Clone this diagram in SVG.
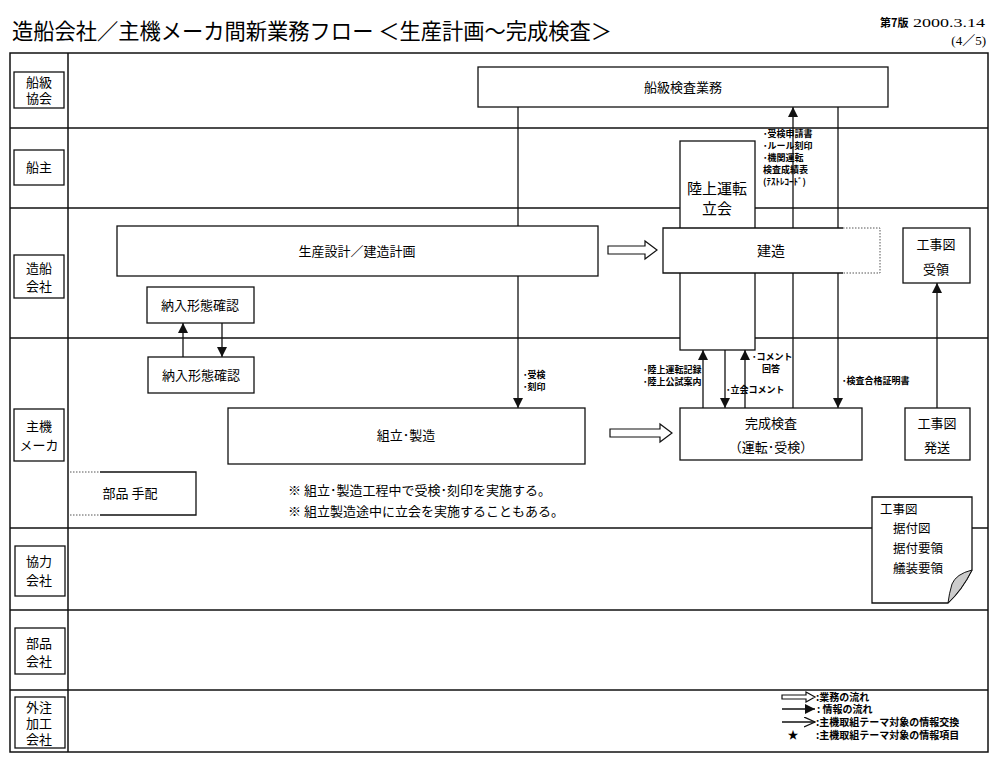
<svg xmlns="http://www.w3.org/2000/svg" width="1000" height="768" viewBox="0 0 1000 768">
<style>
text{font-family:"Noto Sans CJK JP","Noto Sans",sans-serif;fill:#000}
.lane{fill:none;stroke:#111;stroke-width:1.5}
.box{fill:#fff;stroke:#111;stroke-width:1.3}
.lbl{font-size:13px;text-anchor:middle}
.t{font-size:13px;text-anchor:middle}
.s{font-size:9px;font-weight:bold}
.ln{stroke:#111;stroke-width:1.3;fill:none}
.dot{stroke:#555;stroke-width:1;stroke-dasharray:1.5 1.5;fill:none}
.hol{fill:#fff;stroke:#111;stroke-width:1.2}
.lg{font-size:10px;font-weight:bold}
.serif{font-family:"Liberation Serif","Noto Sans CJK JP",serif}
</style>
<defs>
<marker id="ah" markerUnits="userSpaceOnUse" markerWidth="10" markerHeight="12" refX="10" refY="5" orient="auto">
<path d="M0,0 L10,5 L0,10 z" fill="#111"/>
</marker>
<marker id="oh" markerUnits="userSpaceOnUse" markerWidth="12" markerHeight="12" refX="11" refY="5" orient="auto">
<path d="M0,0 L11,5 L0,10" fill="none" stroke="#111" stroke-width="1.3"/>
</marker>
</defs>
<rect width="1000" height="768" fill="#fff"/>

<g id="title">
<text x="12" y="39" font-size="22" textLength="600" lengthAdjust="spacingAndGlyphs">造船会社／主機メーカ間新業務フロー ＜生産計画～完成検査＞</text>
<text x="880" y="27" font-size="11" font-weight="bold">第7版</text>
<text class="serif" x="913" y="27" font-size="13" textLength="72" lengthAdjust="spacingAndGlyphs">2000.3.14</text>
<text class="serif" x="986" y="45" font-size="13" text-anchor="end">(4／5)</text>
</g>

<g id="lanes">
<rect class="lane" x="10" y="53" width="978" height="699"/>
<line class="lane" x1="68" y1="53" x2="68" y2="752"/>
<line class="lane" x1="10" y1="128" x2="988" y2="128"/>
<line class="lane" x1="10" y1="208" x2="988" y2="208"/>
<line class="lane" x1="10" y1="338" x2="988" y2="338"/>
<line class="lane" x1="10" y1="528" x2="988" y2="528"/>
<line class="lane" x1="10" y1="610" x2="988" y2="610"/>
<line class="lane" x1="10" y1="690" x2="988" y2="690"/>
</g>

<g id="lane-labels">
<g id="lbl-senkyu"><rect class="box" x="14" y="72" width="50" height="36"/><text class="lbl" x="39" y="87">船級</text><text class="lbl" x="39" y="103">協会</text></g>
<g id="lbl-senshu"><rect class="box" x="14" y="150" width="50" height="35"/><text class="lbl" x="39" y="172">船主</text></g>
<g id="lbl-zosen"><rect class="box" x="14" y="255" width="50" height="43"/><text class="lbl" x="39" y="273">造船</text><text class="lbl" x="39" y="291">会社</text></g>
<g id="lbl-shuki"><rect class="box" x="14" y="409" width="50" height="52"/><text class="lbl" x="39" y="431">主機</text><text class="lbl" x="39" y="450" font-size="12">メーカ</text></g>
<g id="lbl-kyoryoku"><rect class="box" x="15" y="546" width="50" height="50"/><text class="lbl" x="39" y="566">協力</text><text class="lbl" x="39" y="585">会社</text></g>
<g id="lbl-buhin"><rect class="box" x="15" y="628" width="50" height="46"/><text class="lbl" x="39" y="648">部品</text><text class="lbl" x="39" y="666">会社</text></g>
<g id="lbl-gaichu"><rect class="box" x="15" y="697" width="50" height="51"/><text class="lbl" x="39" y="712" font-size="12.5">外注</text><text class="lbl" x="39" y="728" font-size="12.5">加工</text><text class="lbl" x="39" y="744" font-size="12.5">会社</text></g>
</g>

<g id="connectors">
<line class="ln" x1="518" y1="107" x2="518" y2="408" marker-end="url(#ah)"/>
<line class="ln" x1="793" y1="408" x2="793" y2="107" marker-end="url(#ah)"/>
<line class="ln" x1="838" y1="107" x2="838" y2="408" marker-end="url(#ah)"/>
<line class="ln" x1="183" y1="357" x2="183" y2="323" marker-end="url(#ah)"/>
<line class="ln" x1="222" y1="323" x2="222" y2="357" marker-end="url(#ah)"/>
<line class="ln" x1="703" y1="408" x2="703" y2="350" marker-end="url(#ah)"/>
<line class="ln" x1="725" y1="350" x2="725" y2="408" marker-end="url(#ah)"/>
<line class="ln" x1="745" y1="408" x2="745" y2="350" marker-end="url(#ah)"/>
<line class="ln" x1="937" y1="408" x2="937" y2="283" marker-end="url(#ah)"/>
<polygon class="hol" points="608,246 645,246 645,241 657,250 645,259 645,254 608,254"/>
<polygon class="hol" points="610,429 660,429 660,424 672,433 660,442 660,437 610,437"/>
</g>

<g id="n-senkyu-kensa"><rect class="box" x="478" y="67" width="410" height="40"/><text class="t" x="683" y="92">船級検査業務</text></g>

<g id="n-rikujo"><rect class="box" x="680" y="141" width="75" height="209"/><text x="717" y="194" font-size="15" text-anchor="middle">陸上運転</text><text x="717" y="214" font-size="15" text-anchor="middle">立会</text></g>

<g id="n-kenzo">
<rect x="663" y="228" width="217" height="45" fill="#fff" stroke="none"/>
<path class="ln" d="M843,228 H663 V273 H843"/>
<path class="dot" d="M843,228 H880 V273 H843"/>
<text x="771" y="256" font-size="14" text-anchor="middle">建造</text>
</g>

<g id="n-seisan"><rect class="box" x="117" y="226" width="481" height="50"/><text class="t" x="357" y="256">生産設計／建造計画</text></g>

<g id="n-nonyu1"><rect class="box" x="147" y="287" width="107" height="36"/><text class="t" x="200" y="310">納入形態確認</text></g>
<g id="n-nonyu2"><rect class="box" x="148" y="357" width="106" height="36"/><text class="t" x="201" y="380">納入形態確認</text></g>

<g id="n-kumitate"><rect class="box" x="228" y="408" width="357" height="56"/><text class="t" x="406" y="440">組立･製造</text></g>

<g id="n-kansei"><rect class="box" x="680" y="408" width="182" height="52"/><text class="t" x="771" y="428">完成検査</text><text class="t" x="771" y="452">（運転･受検）</text></g>

<g id="n-koji-juryo"><rect class="box" x="903" y="228" width="67" height="55"/><text class="t" x="936" y="249">工事図</text><text class="t" x="936" y="274">受領</text></g>
<g id="n-koji-hasso"><rect class="box" x="905" y="408" width="65" height="52"/><text class="t" x="937" y="428">工事図</text><text class="t" x="937" y="452">発送</text></g>

<g id="n-buhin-tehai">
<path class="ln" d="M100,472 H196 V515 H100"/>
<path class="dot" d="M70,472 H100 M70,515 H100"/>
<text class="t" x="130" y="498">部品 手配</text>
</g>

<g id="labels">
<text class="s" x="763" y="137">･受検申請書</text>
<text class="s" x="763" y="149">･ルール刻印</text>
<text class="s" x="763" y="161">･機関運転</text>
<text class="s" x="763" y="173">検査成績表</text>
<text class="s" x="763" y="185">(ﾃｽﾄﾚｺｰﾄﾞ)</text>
<text class="s" x="523" y="378">･受検</text>
<text class="s" x="523" y="390">･刻印</text>
<text class="s" x="643" y="373">･陸上運転記録</text>
<text class="s" x="643" y="385">･陸上公試案内</text>
<text class="s" x="752" y="360">･コメント</text>
<text class="s" x="762" y="372">回答</text>
<text class="s" x="726" y="393">･立会コメント</text>
<text class="s" x="842" y="384">･検査合格証明書</text>
<text x="288" y="495" font-size="13">※ 組立･製造工程中で受検･刻印を実施する。</text>
<text x="288" y="516" font-size="13">※ 組立製造途中に立会を実施することもある。</text>
</g>

<g id="n-document">
<path d="M872,497 H972 V570 Q962,590 948,603 H872 Z" fill="#fff" stroke="#111" stroke-width="1.3"/>
<path d="M972,570 Q956,574 952,584 Q949,594 948,603 Q962,590 972,570 Z" fill="#ccc" stroke="#111" stroke-width="1"/>
<text x="880" y="514" font-size="12.5">工事図</text>
<text x="893" y="533" font-size="12.5">据付図</text>
<text x="893" y="553" font-size="12.5">据付要領</text>
<text x="893" y="573" font-size="12.5">艤装要領</text>
</g>

<g id="legend">
<polygon class="hol" points="782,695 806,695 806,692 815,697 806,702 806,699 782,699"/>
<text class="lg" x="816" y="701">:業務の流れ</text>
<line class="ln" x1="782" y1="709" x2="815" y2="709" marker-end="url(#ah)"/>
<text class="lg" x="817" y="713">: 情報の流れ</text>
<line class="ln" x1="782" y1="722" x2="815" y2="722" marker-end="url(#oh)"/>
<text class="lg" x="816" y="726">:主機取組テーマ対象の情報交換</text>
<text x="793" y="739" font-size="11" text-anchor="middle">★</text>
<text class="lg" x="816" y="739">:主機取組テーマ対象の情報項目</text>
</g>
</svg>
